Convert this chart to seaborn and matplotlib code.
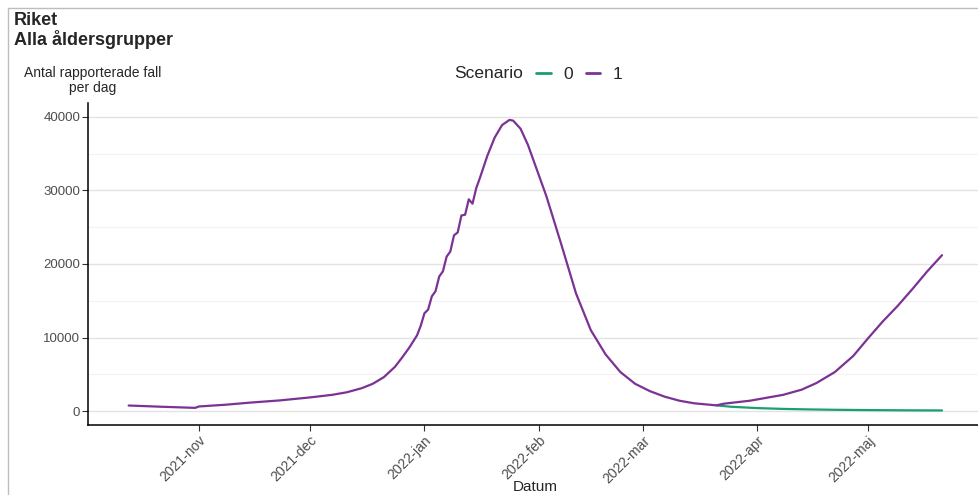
import pandas as pd
import numpy as np
import matplotlib
matplotlib.use("Agg")
import matplotlib.pyplot as plt
import matplotlib.transforms as mtransforms
from matplotlib.lines import Line2D
from matplotlib.ticker import MultipleLocator
import seaborn as sns

# ------------------------------------------------------------
# DATA
# ------------------------------------------------------------

s1_dates = [
    "2021-10-13", "2021-10-22", "2021-10-31", "2021-11-01", "2021-11-08",
    "2021-11-15", "2021-11-23", "2021-12-01", "2021-12-07", "2021-12-11",
    "2021-12-15", "2021-12-18", "2021-12-21", "2021-12-24", "2021-12-26",
    "2021-12-28", "2021-12-30", "2021-12-31", "2022-01-01", "2022-01-02",
    "2022-01-03", "2022-01-04", "2022-01-05", "2022-01-06", "2022-01-07",
    "2022-01-08", "2022-01-09", "2022-01-10", "2022-01-11", "2022-01-12",
    "2022-01-13", "2022-01-14", "2022-01-15", "2022-01-16", "2022-01-18",
    "2022-01-20", "2022-01-22", "2022-01-24", "2022-01-25", "2022-01-27",
    "2022-01-29", "2022-01-31", "2022-02-03", "2022-02-07", "2022-02-11",
    "2022-02-15", "2022-02-19", "2022-02-23", "2022-02-27", "2022-03-03",
    "2022-03-07", "2022-03-11", "2022-03-15", "2022-03-21", "2022-03-23",
    "2022-03-30", "2022-04-08", "2022-04-13", "2022-04-17", "2022-04-22",
    "2022-04-27", "2022-05-01", "2022-05-05", "2022-05-09", "2022-05-13",
    "2022-05-17", "2022-05-21",
]
s1_values = [
    750, 580, 430, 620, 850,
    1150, 1450, 1850, 2200, 2550,
    3100, 3700, 4600, 6000, 7300,
    8700, 10300, 11600, 13300, 13800,
    15600, 16300, 18300, 19000, 21000,
    21700, 23900, 24300, 26600, 26700,
    28800, 28200, 30300, 31700, 34700,
    37200, 38900, 39600, 39500, 38400,
    36200, 33400, 29200, 22700, 16000,
    11000, 7700, 5300, 3700, 2700,
    1950, 1400, 1050, 770, 1000,
    1400, 2200, 2900, 3800, 5300,
    7500, 9900, 12200, 14300, 16600,
    19000, 21200,
]

s0_dates = [
    "2022-03-21", "2022-03-25", "2022-04-01", "2022-04-08", "2022-04-15",
    "2022-04-22", "2022-05-01", "2022-05-10", "2022-05-21",
]
s0_values = [770, 580, 400, 290, 220, 170, 130, 100, 80]

scenario_colors = {"0": "#1B9E77", "1": "#7B3294"}

tick_dates = ["2021-11-01", "2021-12-01", "2022-01-01", "2022-02-01",
              "2022-03-01", "2022-04-01", "2022-05-01"]
tick_labels = ["2021-nov", "2021-dec", "2022-jan", "2022-feb",
               "2022-mar", "2022-apr", "2022-maj"]

# ------------------------------------------------------------
# BUILD FRAME
# ------------------------------------------------------------

df = pd.concat([
    pd.DataFrame({"Datum": pd.to_datetime(s0_dates), "Fall": s0_values, "Scenario": "0"}),
    pd.DataFrame({"Datum": pd.to_datetime(s1_dates), "Fall": s1_values, "Scenario": "1"}),
])

# ------------------------------------------------------------
# PLOT
# ------------------------------------------------------------

sns.set_style("white")
plt.rcParams["font.family"] = ["Liberation Sans", "DejaVu Sans"]

fig = plt.figure(figsize=(9.79, 4.95), dpi=100)
ax = fig.add_axes([88 / 979, 1 - 425 / 495, 891 / 979, 322 / 495])

sns.lineplot(
    data=df,
    x="Datum",
    y="Fall",
    hue="Scenario",
    hue_order=["0", "1"],
    palette=scenario_colors,
    linewidth=1.6,
    legend=False,
    ax=ax
)

ax.set_xlim(pd.Timestamp("2021-10-02"), pd.Timestamp("2022-05-31"))
ax.set_ylim(-1900, 41900)

ax.yaxis.set_major_locator(MultipleLocator(10000))
ax.yaxis.set_minor_locator(MultipleLocator(5000))
ax.grid(axis="y", which="major", color="#e3e3e3", linewidth=1.0)
ax.grid(axis="y", which="minor", color="#f2f2f2", linewidth=0.9)
ax.grid(axis="x", visible=False)
ax.set_axisbelow(True)

ax.set_xticks(pd.to_datetime(tick_dates))
ax.set_xticklabels(tick_labels, rotation=45, ha="right", va="top",
                   rotation_mode="anchor", fontsize=10, color="#4d4d4d")
shift = mtransforms.ScaledTranslation(6 / 100, 0, fig.dpi_scale_trans)
for lbl in ax.get_xticklabels():
    lbl.set_transform(lbl.get_transform() + shift)

ax.tick_params(axis="y", labelsize=9.5, labelcolor="#4d4d4d", length=4, width=0.8,
               color="#333333", which="major", left=True, pad=1.5)
ax.tick_params(axis="y", which="minor", left=False)
ax.tick_params(axis="x", length=4, width=0.8, color="#333333", bottom=True, pad=2)

for side in ["top", "right"]:
    ax.spines[side].set_visible(False)
for side in ["left", "bottom"]:
    ax.spines[side].set_color("black")
    ax.spines[side].set_linewidth(1.1)

ax.set_ylabel("")
ax.set_xlabel("")

# x label, partly cut by the bottom edge as in the reference
fig.text(535 / 979, 1 / 495, "Datum", fontsize=11, ha="center", va="bottom")

# titles
fig.text(14 / 979, 1 - 12 / 495, "Riket\nAlla åldersgrupper", fontsize=13,
         fontweight="bold", va="top", ha="left", linespacing=1.05)
fig.text(93 / 979, 1 - 66 / 495, "Antal rapporterade fall\nper dag", fontsize=10,
         va="top", ha="center", linespacing=1.1)

# legend
fig.text(489 / 979, 1 - 74 / 495, "Scenario", fontsize=12.5, va="center", ha="center")
handles = [Line2D([0], [0], color=scenario_colors[k], linewidth=2) for k in ["0", "1"]]
fig.legend(handles, ["0", "1"], loc="center left", bbox_to_anchor=(536 / 979, 1 - 74 / 495),
           ncol=2, frameon=False, fontsize=12.5, handlelength=0.85, handletextpad=0.7,
           columnspacing=0.75, borderpad=0, borderaxespad=0)

# light frame
fig.add_artist(Line2D([8 / 979, 8 / 979], [0, 1 - 8 / 495], transform=fig.transFigure,
                      color="#bdbdbd", linewidth=1))
fig.add_artist(Line2D([8 / 979, 1], [1 - 8 / 495, 1 - 8 / 495], transform=fig.transFigure,
                      color="#bdbdbd", linewidth=1))

fig.savefig("out.png", dpi=100)
